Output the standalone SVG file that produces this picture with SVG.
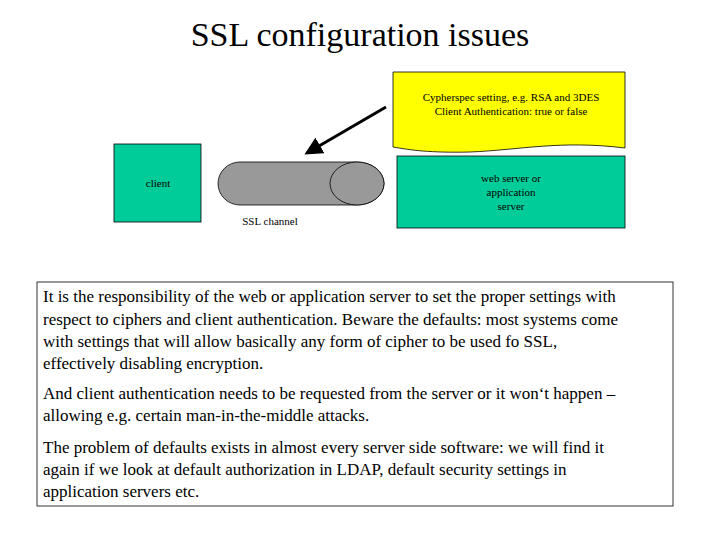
<svg xmlns="http://www.w3.org/2000/svg" width="720" height="540" viewBox="0 0 720 540" font-family="Liberation Serif, Times New Roman, DejaVu Serif, serif">
<style>
text{fill:#000}
.s{font-size:11px}
.b{font-size:17px}
.node{fill:#00cc99;stroke:#000;stroke-width:0.8}
</style>
<defs><marker id="ah" markerWidth="6" markerHeight="6" refX="5" refY="3" orient="auto" markerUnits="strokeWidth"><path d="M0,0 L6,3 L0,6 z" fill="#000"/></marker></defs>
<rect width="720" height="540" fill="#fff"/>
<text x="360" y="46" text-anchor="middle" font-family="Liberation Serif, serif" style="font-size:34px">SSL configuration issues</text>
<g id="note">
<path d="M393,72 H625 V148 C560,140 520,150 470,152 C430,153 410,150 393,147 Z" fill="#ffff00" stroke="#000" stroke-width="0.8"/>
<text class="s" font-family="Liberation Serif, serif" x="511" y="101" text-anchor="middle">Cypherspec setting, e.g. RSA and 3DES</text>
<text class="s" font-family="Liberation Serif, serif" x="511" y="115" text-anchor="middle">Client Authentication:  true or false</text>
</g>
<g id="client">
<rect class="node" x="114" y="144" width="87" height="78"/>
<text class="s" font-family="Liberation Serif, serif" x="158" y="187" text-anchor="middle">client</text>
</g>
<g id="channel">
<path d="M240,162 H357 A27,21.5 0 0 1 357,205 H240 A22,21.5 0 0 1 240,162 Z" fill="#999" stroke="#000" stroke-width="0.8"/>
<ellipse cx="357" cy="183.5" rx="27" ry="21.5" fill="#999" stroke="#000" stroke-width="0.8"/>
<text class="s" font-family="Liberation Serif, serif" x="270" y="225" text-anchor="middle">SSL channel</text>
</g>
<g id="server">
<rect class="node" x="397" y="156" width="228" height="72"/>
<text class="s" font-family="Liberation Serif, serif" x="511" y="182" text-anchor="middle">web server or</text>
<text class="s" font-family="Liberation Serif, serif" x="511" y="196" text-anchor="middle">application</text>
<text class="s" font-family="Liberation Serif, serif" x="511" y="210" text-anchor="middle">server</text>
</g>
<g id="connectors">
<line x1="386" y1="107" x2="307" y2="153" stroke="#000" stroke-width="3" marker-end="url(#ah)"/>
</g>
<g id="textbox" font-family="Liberation Serif, serif">
<rect x="37" y="282" width="636" height="224" fill="#fff" stroke="#000" stroke-width="0.8"/>
<text class="b" x="43" y="302">It is the responsibility of the web or application server to set the proper settings with</text>
<text class="b" x="43" y="325">respect to ciphers and client authentication. Beware the defaults: most systems come</text>
<text class="b" x="43" y="347">with settings that will allow basically any form of cipher to be used fo SSL,</text>
<text class="b" x="43" y="369">effectively disabling encryption.</text>
<text class="b" x="43" y="399">And client authentication needs to be requested from the server or it won‘t happen –</text>
<text class="b" x="43" y="421">allowing e.g. certain man-in-the-middle attacks.</text>
<text class="b" x="43" y="453">The problem of defaults exists in almost every server side software: we will find it</text>
<text class="b" x="43" y="475">again if we look at default authorization in LDAP, default security settings in</text>
<text class="b" x="43" y="497">application servers etc.</text>
</g>
</svg>
